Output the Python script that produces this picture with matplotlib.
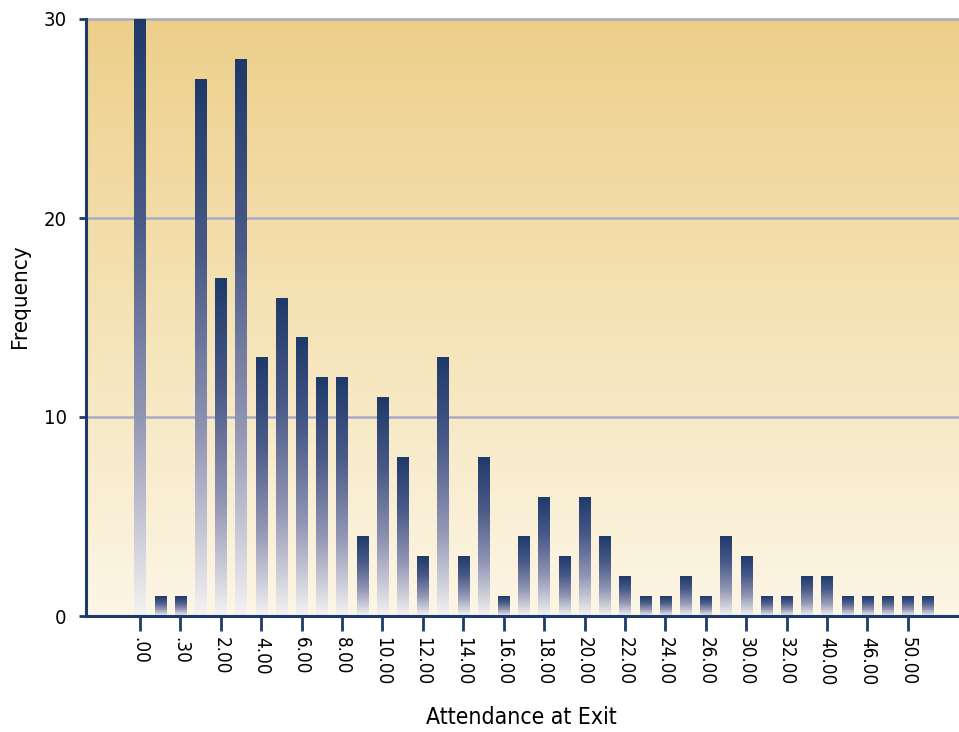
import numpy as np
import matplotlib
matplotlib.use('Agg')
import matplotlib.pyplot as plt
from matplotlib import font_manager
from matplotlib.colors import LinearSegmentedColormap

# ---- data ----
values = [30, 1, 1, 27, 17, 28, 13, 16, 14, 12, 12, 4, 11, 8, 3, 13, 3, 8, 1, 4,
          6, 3, 6, 4, 2, 1, 1, 2, 1, 4, 3, 1, 1, 2, 2, 1, 1, 1, 1, 1]
tick_labels = ['.00', '.30', '2.00', '4.00', '6.00', '8.00', '10.00', '12.00',
               '14.00', '16.00', '18.00', '20.00', '22.00', '24.00', '26.00',
               '30.00', '32.00', '40.00', '46.00', '50.00']
y_ticks = [0, 10, 20, 30]
x_label = 'Attendance at Exit'
y_label = 'Frequency'

# ---- font choice ----
fonts = font_manager.fontManager.ttflist
names = {f.name for f in fonts}
stretch = 'normal'
if 'Liberation Sans Narrow' in names:
    family = 'Liberation Sans Narrow'
elif any(f.name == 'DejaVu Sans' and 'Condensed' in f.fname for f in fonts):
    family = 'DejaVu Sans'
    stretch = 'condensed'
elif 'Roboto Condensed' in names:
    family = 'Roboto Condensed'
else:
    family = 'Liberation Sans'
plt.rcParams['font.family'] = [family, 'DejaVu Sans']
plt.rcParams['font.stretch'] = stretch

navy = '#1E3A6A'
grid_c = '#A7ABC7'

fig = plt.figure(figsize=(9.59, 7.32), dpi=100)
ax = fig.add_axes([86 / 959, 116 / 732, 873 / 959, 597 / 732])

# background gradient
bg_cmap = LinearSegmentedColormap.from_list('bg', ['#FCF6E6', '#F5E3B6', '#EDCF8A'])
bg = np.linspace(1, 0, 256).reshape(-1, 1)
ax.imshow(bg, extent=[0, 1, 0, 1], transform=ax.transAxes, aspect='auto',
          cmap=bg_cmap, zorder=0, interpolation='bicubic')

# gridlines
for yv in y_ticks[1:]:
    ax.axhline(yv, color=grid_c, lw=1.8, zorder=1, clip_on=False)

# bars with vertical gradient
x = np.arange(len(values))
bars = ax.bar(x, values, width=0.56, color='none', edgecolor='none', zorder=2)
bar_cmap = LinearSegmentedColormap.from_list('bar', ['#F4F2F2', '#9296B4', '#4A5A88', navy],
                                             N=256)
grad = np.linspace(1, 0, 256).reshape(-1, 1)
for r in bars:
    x0, w, h = r.get_x(), r.get_width(), r.get_height()
    im = ax.imshow(grad, extent=[x0, x0 + w, 0, h], aspect='auto', cmap=bar_cmap,
                   vmin=0, vmax=1, zorder=2, interpolation='bicubic')
    im.set_clip_path(r)

ax.set_xlim(-2.67, 40.53)
ax.set_ylim(0, 30)

# spines
for s in ['top', 'right']:
    ax.spines[s].set_visible(False)
for s in ['left', 'bottom']:
    ax.spines[s].set_color(navy)
    ax.spines[s].set_linewidth(2.2)
    ax.spines[s].set_zorder(3)

ax.set_yticks(y_ticks)
ax.set_yticklabels([str(v) for v in y_ticks], fontsize=14.5)
ax.set_xticks(x[::2])
ax.set_xticklabels(tick_labels, rotation=-90, fontsize=13.5, va='top', ha='center')
ax.tick_params(axis='x', length=11, width=2, color=navy, pad=4)
ax.tick_params(axis='y', length=5, width=2, color=navy, pad=9)

fig.text(521 / 959, 1 - 718 / 732, x_label, fontsize=16.5, ha='center', va='center')
fig.text(20 / 959, 1 - 296 / 732, y_label, fontsize=16, ha='center', va='center',
         rotation=90)

fig.savefig('out.png', dpi=100)
